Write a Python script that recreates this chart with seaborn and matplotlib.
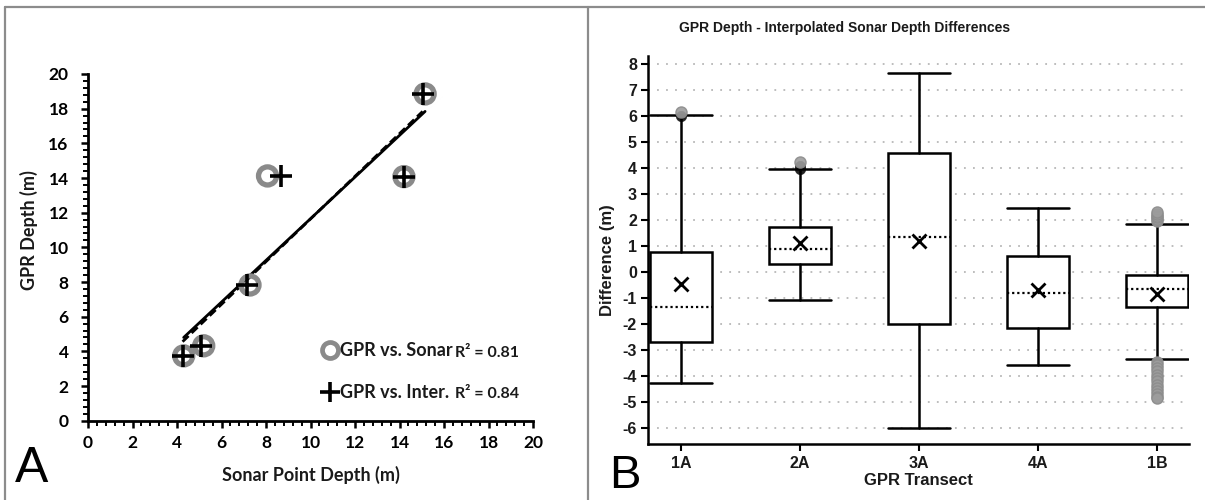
import matplotlib
matplotlib.use("Agg")
import matplotlib.pyplot as plt
from matplotlib.lines import Line2D
from matplotlib.ticker import MultipleLocator
import seaborn as sns

# ---------------- Panel A: GPR depth vs. sonar depths ----------------
gpr_depth = [3.74, 4.32, 7.83, 14.12, 14.08, 18.85]
sonar_depth = [4.30, 5.20, 7.28, 8.07, 14.20, 15.15]
interp_depth = [4.25, 5.10, 7.15, 8.67, 14.20, 15.04]
series_labels = ["GPR vs. Sonar", "GPR vs. Inter."]
r2_labels = ["R² = 0.81", "R² = 0.84"]

# ---------------- Panel B: depth differences by transect ----------------
transects = ["1A", "2A", "3A", "4A", "1B"]
whisker_low = [-4.27, -1.07, -6.00, -3.58, -3.35]
q1 = [-2.69, 0.30, -2.00, -2.15, -1.35]
median = [-1.35, 0.90, 1.36, -0.80, -0.65]
q3 = [0.77, 1.72, 4.59, 0.62, -0.12]
whisker_high = [6.04, 3.95, 7.67, 2.46, 1.85]
mean = [-0.46, 1.12, 1.19, -0.69, -0.85]
outliers = [
    [6.15],
    [4.25],
    [],
    [],
    [1.95, 2.03, 2.10, 2.17, 2.24, 2.30,
     -3.45, -3.58, -3.70, -3.82, -3.95, -4.08, -4.20, -4.33,
     -4.45, -4.58, -4.70, -4.80, -4.86],
]
outliers_dark = [[6.00], [3.98, 4.08], [], [], []]

sns.set_theme(style="ticks")
font_a = ["Lato", "DejaVu Sans"]
font_b = ["Liberation Sans Narrow", "Liberation Sans", "DejaVu Sans"]
plt.rcParams["font.family"] = font_a
plt.rcParams["axes.unicode_minus"] = False

W, H = 1205, 500
fig = plt.figure(figsize=(W / 100, H / 100), dpi=100)
fig.patch.set_facecolor("white")


def px_box(x0, x1, ytop, ybot):
    return [x0 / W, 1 - ybot / H, (x1 - x0) / W, (ybot - ytop) / H]


# ======================= Panel A =======================
axA = fig.add_axes(px_box(88, 533, 74, 420.7))
axA.set_facecolor("white")

sns.regplot(x=sonar_depth, y=gpr_depth, ax=axA, ci=None, scatter=False,
            truncate=True, color="black", line_kws=dict(lw=2.0, zorder=2))
sns.regplot(x=interp_depth, y=gpr_depth, ax=axA, ci=None, scatter=False,
            truncate=True, color="black",
            line_kws=dict(lw=2.0, ls=(0, (3, 1.5)), zorder=2))

sns.scatterplot(x=sonar_depth, y=gpr_depth, ax=axA, marker="o", s=170,
                color="#8a8a8a", facecolor="none", edgecolor="#8a8a8a",
                linewidth=3.8, zorder=3)
sns.scatterplot(x=interp_depth, y=gpr_depth, ax=axA, marker="+", s=260,
                color="black", linewidth=2.6, zorder=4)

axA.set_xlim(0, 20)
axA.set_ylim(0, 20)
axA.xaxis.set_major_locator(MultipleLocator(2))
axA.yaxis.set_major_locator(MultipleLocator(2))
axA.xaxis.set_minor_locator(MultipleLocator(0.4))
axA.yaxis.set_minor_locator(MultipleLocator(0.4))
for s in ("top", "right"):
    axA.spines[s].set_visible(False)
for s in ("left", "bottom"):
    axA.spines[s].set_linewidth(2.0)
    axA.spines[s].set_color("black")
axA.tick_params(which="major", direction="out", length=5, width=1.8,
                color="black", labelsize=12.5, labelcolor="black")
axA.tick_params(which="minor", direction="out", length=3.5, width=1.4,
                color="black")
axA.tick_params(axis="y", which="major", pad=9)
axA.tick_params(axis="x", which="major", pad=5)
for lab in axA.get_xticklabels() + axA.get_yticklabels():
    lab.set_fontweight("bold")

axA.set_xlabel("Sonar Point Depth (m)", fontsize=13, fontweight="bold",
               color="#1a1a1a")
axA.set_ylabel("GPR Depth (m)", fontsize=13, fontweight="bold",
               color="#1a1a1a")
axA.xaxis.set_label_coords(0.5, -0.13)
axA.yaxis.set_label_coords(-0.112, 0.55)

handles = [
    Line2D([], [], ls="none", marker="o", ms=11.5, mfc="none", mec="#8a8a8a",
           mew=3.4),
    Line2D([], [], ls="none", marker="+", ms=15, mec="black", mew=2.6),
]
leg = axA.legend(handles, series_labels, loc="lower left",
                 bbox_to_anchor=(0.503, 0.03), frameon=False, borderpad=0,
                 handlelength=1.0, handletextpad=0.05, labelspacing=1.4,
                 prop=dict(family=font_a, weight="bold", size=13))
for t in leg.get_texts():
    t.set_color("#1a1a1a")
for r2, yf in zip(r2_labels, [0.196, 0.078]):
    axA.text(0.825, yf, r2, transform=axA.transAxes, ha="left", va="center",
             fontsize=11.5, fontweight="bold", color="#1a1a1a", family=font_a)

# ======================= Panel B =======================
axB = fig.add_axes(px_box(648, 1189, 56, 444))
axB.set_facecolor("white")

stats = []
for i, name in enumerate(transects):
    stats.append(dict(label=name, whislo=whisker_low[i], q1=q1[i],
                      med=median[i], q3=q3[i], whishi=whisker_high[i],
                      mean=mean[i], fliers=outliers[i]))

line_kw = dict(color="black", lw=1.8)
axB.bxp(stats, positions=list(range(len(transects))), widths=0.52,
        capwidths=0.52, showmeans=True, showfliers=True, patch_artist=True,
        boxprops=dict(facecolor="white", edgecolor="black", lw=1.8),
        whiskerprops=line_kw, capprops=line_kw,
        medianprops=dict(color="black", lw=1.6, ls=(0, (1, 1.3))),
        meanprops=dict(marker="x", markersize=10, markeredgecolor="black",
                       markeredgewidth=2.0),
        flierprops=dict(marker="o", markersize=8, markerfacecolor="#9c9c9c",
                        markeredgecolor="#8c8c8c", alpha=0.9),
        zorder=3)

dark_x = [i for i, vals in enumerate(outliers_dark) for _ in vals]
dark_y = [v for vals in outliers_dark for v in vals]
sns.scatterplot(x=dark_x, y=dark_y, ax=axB, s=55, color="#222222",
                edgecolor="#222222", linewidth=0.5, zorder=2.5)

axB.set_ylim(-6.615, 8.31)
axB.set_xlim(-0.277, 4.27)
axB.set_yticks(range(-6, 9))
axB.set_xticks(range(len(transects)))
axB.set_xticklabels(transects)
axB.grid(False)
for v in range(-6, 9):
    axB.axhline(v, color="#b8b8b8", lw=1.3, ls=(0, (1, 4)), zorder=0)

for s in ("top", "right"):
    axB.spines[s].set_visible(False)
for s in ("left", "bottom"):
    axB.spines[s].set_linewidth(1.8)
    axB.spines[s].set_color("black")
axB.tick_params(direction="out", length=5, width=1.5, color="black",
                labelsize=11.5, labelcolor="#1a1a1a")
axB.tick_params(axis="x", pad=3.5)
axB.tick_params(axis="y", pad=3)
for lab in axB.get_xticklabels() + axB.get_yticklabels():
    lab.set_family(font_b)
    lab.set_fontweight("bold")

axB.set_xlabel("GPR Transect", fontsize=12, fontweight="bold",
               family=font_b, color="#1a1a1a")
axB.set_ylabel("Difference (m)", fontsize=12, fontweight="bold",
               family=font_b, color="#1a1a1a")
axB.xaxis.set_label_coords(0.5, -0.076)
axB.yaxis.set_label_coords(-0.061, 0.474)
axB.set_title("GPR Depth - Interpolated Sonar Depth Differences",
              fontsize=10, fontweight="bold", family=font_b,
              color="#1a1a1a", x=0.364, y=1.062, pad=0)

# ---------------- panel frames and letters ----------------
frame = dict(color="#8c8c8c", lw=1.6, transform=fig.transFigure)
fig.add_artist(Line2D([5 / W, 1], [1 - 7 / H] * 2, **frame))
fig.add_artist(Line2D([5 / W] * 2, [0, 1 - 7 / H], **frame))
fig.add_artist(Line2D([588 / W] * 2, [0, 1 - 7 / H], **frame))

fig.text(15 / W, 1 - 482 / H, "A", fontsize=36, family="Liberation Sans",
         color="black", ha="left", va="baseline")
fig.text(609 / W, 1 - 488 / H, "B", fontsize=34, family="Liberation Sans",
         color="black", ha="left", va="baseline")

fig.savefig("out.png", dpi=100, facecolor="white")
